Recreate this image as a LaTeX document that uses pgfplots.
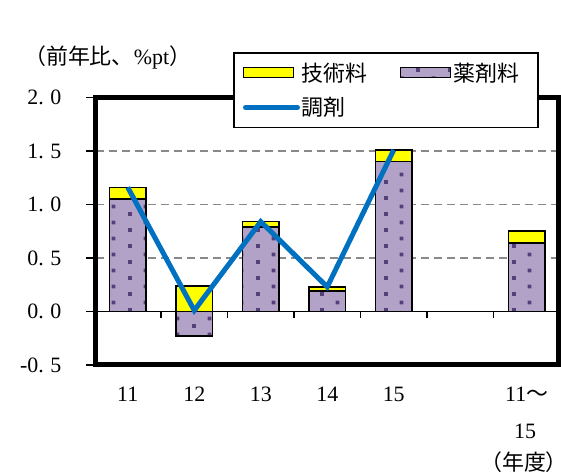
\documentclass[border=0pt]{standalone}
\usepackage{fontspec}
\setmainfont{Liberation Serif}
\newfontfamily\cjk{Noto Sans CJK JP}
\usepackage{pgfplots}
\pgfplotsset{compat=1.18}
\usepackage{pgfplotstable}
\usetikzlibrary{patterns.meta}
\definecolor{lav}{HTML}{B3A2C7}
\definecolor{dotc}{HTML}{55407A}
\definecolor{lblue}{HTML}{0070C0}
\definecolor{ylw}{HTML}{FFFF00}
\definecolor{grd}{HTML}{898989}
\tikzdeclarepattern{
  name=sqdots,
  type=uncolored,
  bounding box={(0bp,0bp) and (32bp,16bp)},
  tile size={(32bp,16bp)},
  code={
    \fill (0bp,0bp) rectangle (4bp,4bp);
    \fill (16bp,8bp) rectangle (20bp,12bp);
  }
}
\pgfplotsset{
  barleg/.style={legend image code/.code={\draw[##1] (0bp,-5bp) rectangle (50bp,5bp);}},
  lineleg/.style={legend image code/.code={\draw[##1, line cap=round] (2bp,0bp) -- (54bp,0bp);}},
}
% x: category position; yaku = 薬剤料; top = top of 技術料 (薬剤料+技術料, positive part)
\pgfplotstableread{
x yaku top
0 1.05 1.16
1 -0.23 0.24
2 0.79 0.84
3 0.19 0.23
4 1.40 1.51
6 0.64 0.75
}\bardata
\pgfplotstableread{
x chozai
0 1.16
1 0.01
2 0.84
3 0.23
4 1.51
}\chozaidata
\begin{document}
\begin{tikzpicture}
\useasboundingbox (0bp,0bp) rectangle (561bp,472bp);
\begin{axis}[
  at={(95.5bp,107bp)}, anchor=south west, scale only axis,
  width=462.5bp, height=267.5bp,
  xmin=-0.485, xmax=6.47, ymin=-0.5, ymax=2.0,
  axis line style={line width=5bp, black},
  tick align=outside, major tick length=9bp,
  ytick={-0.5,0,0.5,1,1.5,2},
  yticklabels={-0.\hspace{0.3em}5,0.\hspace{0.3em}0,0.\hspace{0.3em}5,1.\hspace{0.3em}0,1.\hspace{0.3em}5,2.\hspace{0.3em}0},
  ytick pos=left,
  y tick style={line width=1.2bp, black},
  xtick={0,1,2,3,4,6},
  xticklabels={11,12,13,14,15,{11{\cjk 〜}}},
  x tick style={draw=none},
  xtick pos=bottom,
  tick label style={font=\fontsize{22}{26}\selectfont},
  xticklabel style={anchor=base, yshift=-27bp},
  yticklabel style={anchor=east, inner sep=0pt, xshift=-25bp},
  ymajorgrids,
  grid style={line width=1.5bp, grd, dash pattern=on 8bp off 5bp},
  legend columns=2,
  legend cell align=left,
  legend style={at={(axis description cs:0.2973,1.170)}, anchor=north west,
    draw=black, line width=1.5bp, fill=white,
    font=\cjk\fontsize{22}{26}\selectfont,
    inner xsep=9bp, inner ysep=8bp, row sep=11bp,
    /tikz/every even column/.append style={column sep=30bp}},
]
\draw[black, line width=1.2bp] (axis cs:-0.485,0) -- (axis cs:6.47,0);
\pgfplotsinvokeforeach{0.5,1.5,2.5,3.5,4.5,5.5}{
  \draw[black, line width=1.2bp] (axis cs:#1,0) -- ++(0bp,-7bp);
}
\addplot[ybar, bar width=0.55, bar shift=0pt, fill=ylw, draw=black, line width=1.5bp, barleg]
  table[x=x,y=top]{\bardata};
\addlegendentry{技術料}
\addplot[ybar, bar width=0.55, bar shift=0pt, preaction={fill=lav}, pattern=sqdots, pattern color=dotc, draw=black, line width=1.5bp, barleg]
  table[x=x,y=yaku]{\bardata};
\addlegendentry[text width=74bp, align=left]{薬剤料}
\addplot[lblue, line width=5bp, mark=none, lineleg]
  table[x=x,y=chozai]{\chozaidata};
\addlegendentry{調剤}
\end{axis}
\node[anchor=base west, inner sep=0pt, font=\fontsize{22}{26}\selectfont] at (24bp,407bp) {{\cjk （前年比、}\%pt{\cjk ）}};
\node[anchor=base, inner sep=0pt, font=\fontsize{22}{26}\selectfont] at (525bp,34bp) {15};
\node[anchor=base west, inner sep=0pt, font=\fontsize{22}{26}\selectfont] at (480bp,2bp) {\cjk （年度）};
\end{tikzpicture}
\end{document}
